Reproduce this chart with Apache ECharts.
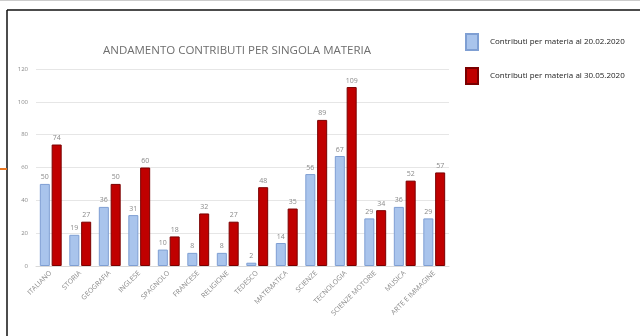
<!DOCTYPE html>
<html><head><meta charset="utf-8">
<script src="https://cdn.jsdelivr.net/npm/echarts@6/dist/echarts.min.js"></script>
<style>html,body{margin:0;padding:0;background:#fff}#c{width:640px;height:336px}</style>
</head><body><div id="c"></div>
<script>
const categories = ['ITALIANO','STORIA','GEOGRAFIA','INGLESE','SPAGNOLO','FRANCESE','RELIGIONE','TEDESCO','MATEMATICA','SCIENZE','TECNOLOGIA','SCIENZE MOTORIE','MUSICA','ARTE E IMMAGINE'];
const seriesNames = ['Contributi per materia al 20.02.2020','Contributi per materia al 30.05.2020'];
const values0220 = [50,19,36,31,10,8,8,2,14,56,67,29,36,29];
const values3005 = [74,27,50,60,18,32,27,48,35,89,109,34,52,57];
const yTicks = [0,20,40,60,80,100,120];

const chart = echarts.init(document.getElementById('c'));
const lbl = {show:true, position:'top', color:'#8a8a8a', fontSize:7, distance:3, fontFamily:'Open Sans'};
chart.setOption({
  animation:false,
  title:{text:'ANDAMENTO CONTRIBUTI PER SINGOLA MATERIA', left:232, textAlign:'center', top:40,
    textStyle:{color:'#6e6e6e', fontSize:11.5, fontWeight:'normal', fontFamily:'Open Sans'}},
  legend:{orient:'vertical', left:465, top:33, padding:0, itemWidth:12, itemHeight:16, itemGap:16,
    icon:'rect', textStyle:{color:'#222', fontSize:8, fontFamily:'Open Sans', padding:[0,0,0,7]},
    data:seriesNames},
  grid:{left:36, right:191, top:69, bottom:70, containLabel:false},
  xAxis:{type:'category', data:categories,
    axisLine:{lineStyle:{color:'#d9d9d9'}}, axisTick:{show:false},
    axisLabel:{rotate:45, color:'#8a8a8a', fontSize:7, interval:0, margin:6, fontFamily:'Open Sans'}},
  yAxis:{type:'value', min:0, max:120, interval:20,
    axisLine:{show:false}, axisTick:{show:false},
    splitLine:{lineStyle:{color:'#e6e6e6'}},
    axisLabel:{color:'#8a8a8a', fontSize:6, margin:8, fontFamily:'Open Sans',
      formatter:v=>yTicks.includes(v)?String(v):''}},
  series:[
    {name:seriesNames[0], type:'bar', data:values0220, barWidth:'34%', barGap:'18%',
      itemStyle:{color:'#a9c4ec', borderColor:'#7f9fd3', borderWidth:1}, label:lbl},
    {name:seriesNames[1], type:'bar', data:values3005, barWidth:'34%', barGap:'18%',
      itemStyle:{color:'#c00000', borderColor:'#7a0000', borderWidth:1}, label:lbl}
  ],
  graphic:[
    {type:'line', shape:{x1:0,y1:0.5,x2:640,y2:0.5}, style:{stroke:'#cccccc', lineWidth:1}},
    {type:'line', shape:{x1:7,y1:10,x2:640,y2:10}, style:{stroke:'#111', lineWidth:1.5}},
    {type:'line', shape:{x1:7,y1:10,x2:7,y2:336}, style:{stroke:'#111', lineWidth:1.5}},
    {type:'line', shape:{x1:0,y1:169,x2:7,y2:169}, style:{stroke:'#e87722', lineWidth:2}}
  ]
});
</script></body></html>
